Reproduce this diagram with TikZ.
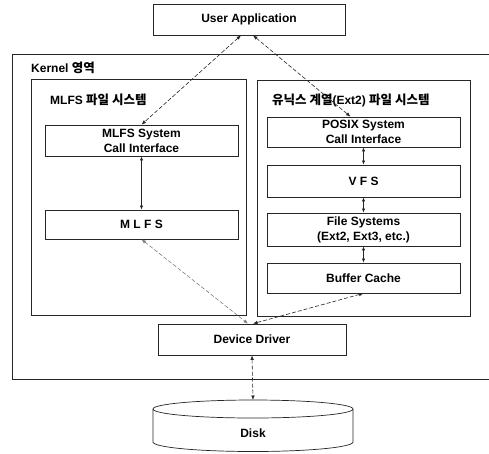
\documentclass[tikz,border=0pt]{standalone}
\usepackage{fontspec}
\setmainfont{Liberation Sans}
\newfontfamily\kr{Noto Sans CJK KR}
\newcommand\KRtxt[1]{{\kr\bfseries\fontsize{12.5}{14}\selectfont #1}}
\usetikzlibrary{arrows.meta,calc}
\begin{document}
\begin{tikzpicture}[x=1pt,y=-1pt,
  box/.style={draw=black!85, line width=0.7pt, inner sep=0pt, align=center,
              font=\bfseries\fontsize{12}{15}\selectfont},
  area/.style={draw=black!85, line width=0.7pt, inner sep=0pt},
  conn/.style={draw=black!85, line width=0.6pt, dashed, dash pattern=on 4pt off 2pt,
               {Latex[length=4.5pt,width=3.5pt]}-{Latex[length=4.5pt,width=3.5pt]}},
  link/.style={draw=black!85, line width=0.6pt,
               {Latex[length=4pt,width=3.2pt]}-{Latex[length=4pt,width=3.2pt]}},
  lbl/.style={anchor=west, inner sep=0pt, font=\bfseries\fontsize{12}{14}\selectfont}
]
\useasboundingbox (0,0) rectangle (489,453);
\fill[white] (0,0) rectangle (489,453);

% regions
\node[area, minimum width=488pt, minimum height=325pt] (kernel) at (256,216.5) {};
\node[area, minimum width=215pt, minimum height=236pt] (mlfsarea) at (138.5,197) {};
\node[area, minimum width=213pt, minimum height=236pt] (extarea) at (363.5,198) {};

% labels
\node[lbl] (klbl) at (31,68) {Kernel \KRtxt{영역}};
\node[lbl] (mlbl) at (50,100) {MLFS \KRtxt{파일 시스템}};
\node[lbl] (elbl) at (272,100) {\KRtxt{유닉스 계열}(Ext2) \KRtxt{파일 시스템}};

% boxes
\node[box, minimum width=192pt, minimum height=31pt] (ua) at (249,19.5) {User Application};
\node[box, minimum width=193pt, minimum height=31pt] (msci) at (141.5,140.5) {MLFS System\\Call Interface};
\node[box, minimum width=193pt, minimum height=29pt] (mlfs) at (141.5,224.5) {M L F S};
\node[box, minimum width=193pt, minimum height=30pt] (posix) at (363.5,132) {POSIX System\\Call Interface};
\node[box, minimum width=193pt, minimum height=32pt] (vfs) at (363.5,181) {V F S};
\node[box, minimum width=193pt, minimum height=33pt] (fs) at (363.5,229.5) {File Systems\\(Ext2, Ext3, etc.)};
\node[box, minimum width=193pt, minimum height=30pt] (bc) at (363.5,278) {Buffer Cache};
\node[box, minimum width=188pt, minimum height=31pt] (dd) at (252,339.5) {Device Driver};

% disk
\draw[black!85, line width=0.7pt, fill=white]
  (153,409) -- (153,442) arc[start angle=180, end angle=0, x radius=100, y radius=9.5]
  -- (353,409);
\draw[black!85, line width=0.7pt] (253,409) ellipse[x radius=100, y radius=9];
\coordinate (disktop) at (253,400);
\node[font=\bfseries\fontsize{12}{14}\selectfont, inner sep=0pt] (disk) at (253,433) {Disk};

% connectors
\draw[conn] ([xshift=-8pt]ua.south) -- (msci.north);
\draw[conn] ([xshift=4pt]ua.south) -- ([xshift=-13pt]posix.north);
\draw[link] (msci.south) -- (mlfs.north);
\draw[conn, draw=black!50] (mlfs.south) -- ([xshift=-4pt]dd.north);
\draw[link] (posix.south) -- (vfs.north);
\draw[link] (vfs.south) -- (fs.north);
\draw[link] (fs.south) -- (bc.north);
\draw[conn] (bc.south) -- ([xshift=1pt]dd.north);
\draw[conn] (dd.south) -- (disktop);
\end{tikzpicture}
\end{document}
